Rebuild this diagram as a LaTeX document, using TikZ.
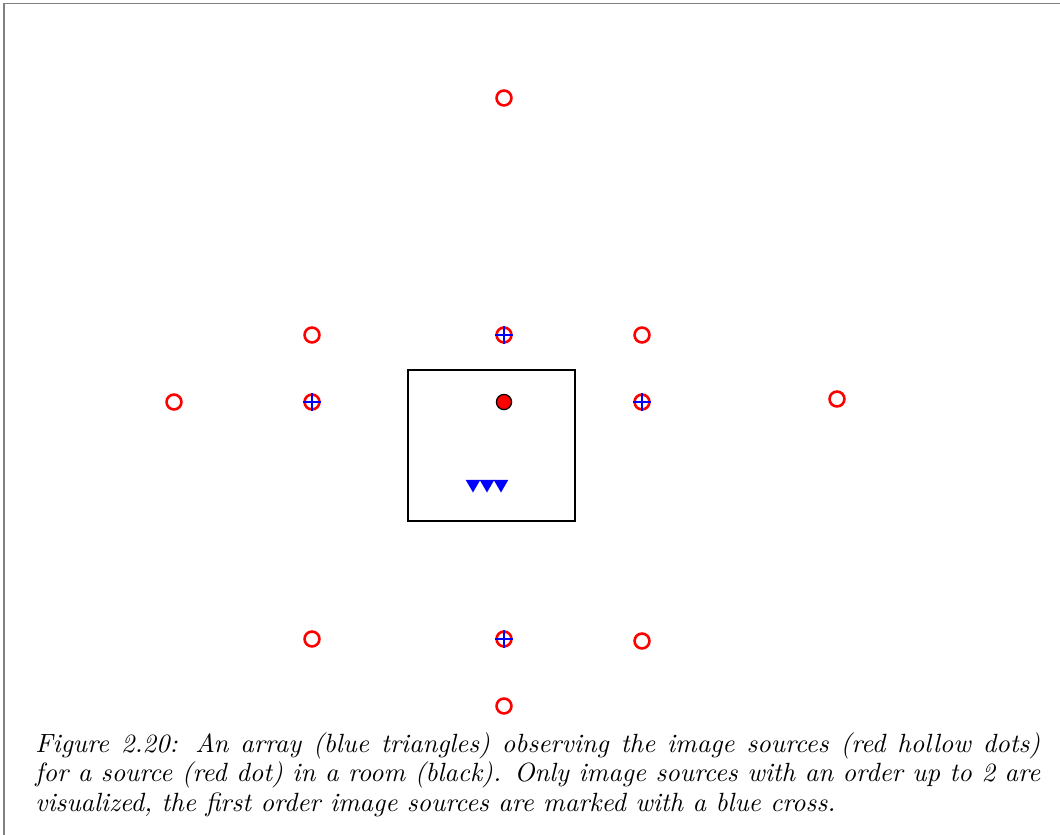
\documentclass[tikz,border=0pt]{standalone}
\usetikzlibrary{shapes.geometric}

\begin{document}
\begin{tikzpicture}[
  x = 0.01411cm, y = -0.01411cm,
  imgsrc/.style  = {circle, draw=red, line width=1.05pt, minimum size=0.21cm, inner sep=0pt},
  mainsrc/.style = {circle, draw=black, fill=red, line width=0.5pt, minimum size=0.215cm, inner sep=0pt},
  mic/.style     = {regular polygon, regular polygon sides=3, shape border rotate=180,
                    fill=blue, minimum size=0.24cm, inner sep=0pt, outer sep=0pt},
  crossln/.style = {blue, line width=0.5pt},
  roomwall/.style = {draw=black, line width=0.6pt},
  frameln/.style = {gray, line width=0.6pt},
  capt/.style    = {anchor=north west, inner sep=0pt, text width=14.18cm,
                    align=justify, font=\fontsize{10.6pt}{11.8pt}\selectfont\itshape}
]
\useasboundingbox (0,0) rectangle (1060,835);
\draw[frameln] (4,835) -- (4,3.5) -- (1060,3.5);

% room, source and array
\draw[roomwall] (408,370) rectangle (575,521);
\node[mainsrc] (src) at (504,402) {};
\node[mic] (mic1) at (473,484) {};
\node[mic] (mic2) at (487,484) {};
\node[mic] (mic3) at (501,484) {};

% first order image sources
\node[imgsrc] (up1)    at (504,335) {};
\node[imgsrc] (left1)  at (312,402) {};
\node[imgsrc] (right1) at (642,402) {};
\node[imgsrc] (down1)  at (504,639) {};
\foreach \n in {up1, left1, right1, down1}
  \draw[crossln] (\n.north) -- (\n.south) (\n.west) -- (\n.east);

% second order image sources
\node[imgsrc] (up2)    at (504,98) {};
\node[imgsrc] (ul2)    at (312,335) {};
\node[imgsrc] (ur2)    at (642,335) {};
\node[imgsrc] (left2)  at (174,402) {};
\node[imgsrc] (right2) at (837,399) {};
\node[imgsrc] (dl2)    at (312,639) {};
\node[imgsrc] (dr2)    at (642,641) {};
\node[imgsrc] (down2)  at (504,706) {};

\node[capt] (caption) at (35,732) {Figure 2.20: An array (blue triangles) observing the image sources (red hollow dots)\linebreak for a source (red dot) in a room (black). Only image sources with an order up to 2 are\linebreak visualized, the first order image sources are marked with a blue cross.};
\end{tikzpicture}
\end{document}
